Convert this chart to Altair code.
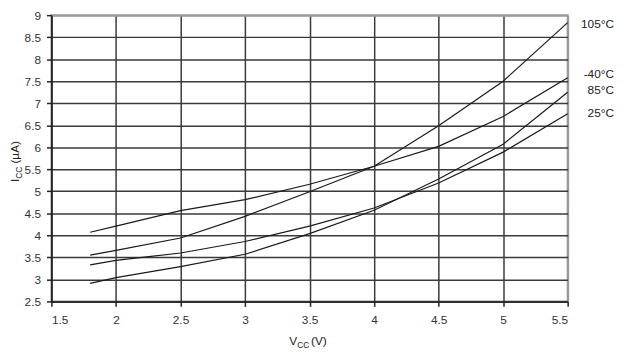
import altair as alt
import pandas as pd

FONT = "Liberation Sans"

vcc = [1.8, 2.0, 2.5, 3.0, 3.5, 4.0, 4.5, 5.0, 5.5]
icc_m40 = [4.07, 4.21, 4.56, 4.81, 5.16, 5.57, 6.02, 6.70, 7.58]
icc_25 = [3.33, 3.43, 3.60, 3.86, 4.21, 4.62, 5.19, 5.89, 6.76]
icc_85 = [2.91, 3.04, 3.29, 3.57, 4.04, 4.57, 5.28, 6.07, 7.25]
icc_105 = [3.55, 3.66, 3.94, 4.43, 4.99, 5.57, 6.49, 7.50, 8.83]

series_names = ["-40°C", "25°C", "85°C", "105°C"]
series_values = [icc_m40, icc_25, icc_85, icc_105]
label_y = [7.67, 6.78, 7.31, 8.80]

x_ticks = [1.5, 2.0, 2.5, 3.0, 3.5, 4.0, 4.5, 5.0, 5.5]
y_ticks = [2.5, 3.0, 3.5, 4.0, 4.5, 5.0, 5.5, 6.0, 6.5, 7.0, 7.5, 8.0, 8.5, 9.0]

rows = []
for name, vals in zip(series_names, series_values):
    for x, y in zip(vcc, vals):
        rows.append({"series": name, "vcc": x, "icc": y})
df = pd.DataFrame(rows)

lab_df = pd.DataFrame({"series": series_names, "vcc": [vcc[-1]] * 4, "icc": label_y})

axis_common = dict(
    title=None,
    labelFont=FONT,
    labelFontSize=12,
    labelColor="#333",
    labelOverlap=False,
    domainColor="#222",
    domainWidth=1.5,
    tickColor="#222",
    tickWidth=1.5,
    tickSize=5,
    grid=True,
    format=".1~f",
)

x_axis = alt.Axis(
    values=x_ticks,
    labelPadding=8,
    gridColor={"condition": {"test": "datum.value >= 5.5", "value": "#9a9a9a"}, "value": "#3a3a3a"},
    gridWidth={"condition": {"test": "datum.value >= 5.5", "value": 2}, "value": 1.5},
    **axis_common,
)
y_axis = alt.Axis(
    values=y_ticks,
    labelPadding=6,
    gridColor={"condition": {"test": "datum.value >= 9", "value": "#9a9a9a"}, "value": "#3a3a3a"},
    gridWidth={"condition": {"test": "datum.value >= 9", "value": 2}, "value": 1.5},
    **axis_common,
)

x_enc = alt.X("vcc:Q", scale=alt.Scale(domain=[1.5, 5.5], nice=False, zero=False), axis=x_axis)
y_enc = alt.Y("icc:Q", scale=alt.Scale(domain=[2.5, 9], nice=False, zero=False), axis=y_axis)

lines = alt.Chart(df).mark_line(color="#1a1a1a", strokeWidth=1.2).encode(
    x=x_enc, y=y_enc, detail="series:N"
)

labels = alt.Chart(lab_df).mark_text(
    align="right", baseline="middle", dx=47, font=FONT, fontSize=12, color="#222"
).encode(x=x_enc, y=y_enc, text="series:N")


def txt(s, x, y, size, angle=0):
    params = dict(align="left", baseline="alphabetic", font=FONT, fontSize=size, color="#222")
    if angle:
        params["angle"] = angle
    return alt.Chart(pd.DataFrame({"t": [s]})).mark_text(**params).encode(
        x=alt.value(x), y=alt.value(y), text="t:N"
    )


titles = [
    txt("V", 241, 334, 12),
    txt("CC", 249, 337, 8.5),
    txt("(V)", 263, 334, 12),
    txt("I", -33, 169, 12, 270),
    txt("CC", -30, 165.7, 8.5, 270),
    txt("(µA)", -33, 150.4, 12, 270),
]

chart = alt.layer(lines, labels, *titles).properties(
    width=523,
    height=290,
    padding={"left": 44, "top": 5, "right": 51, "bottom": 50},
    autosize=alt.AutoSizeParams(type="none"),
).configure_view(stroke="#9a9a9a", strokeWidth=2)

chart.save("out.html", embed_options={"renderer": "svg", "actions": False})
